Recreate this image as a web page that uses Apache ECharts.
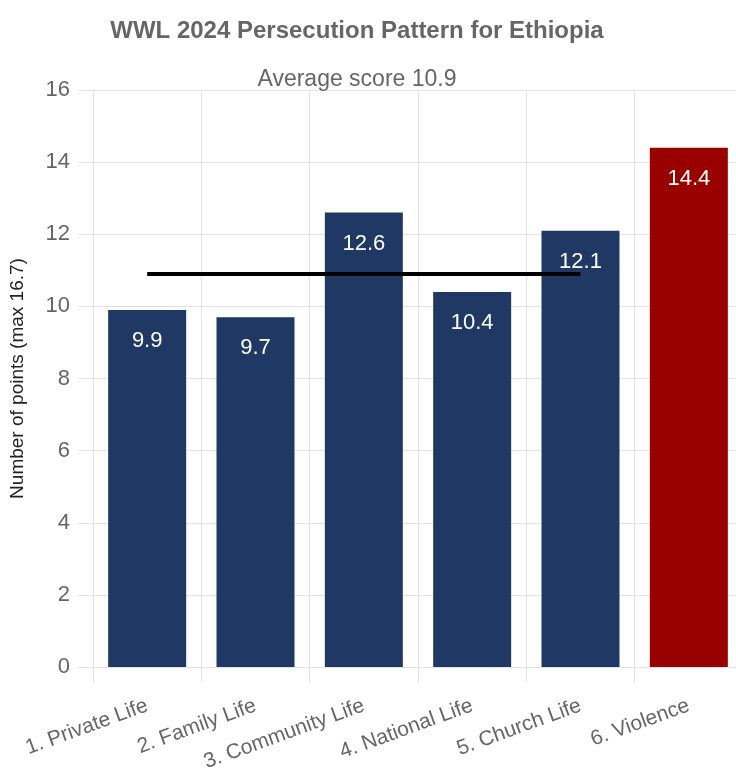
<!DOCTYPE html>
<html>
<head>
<meta charset="utf-8">
<script src="https://cdn.jsdelivr.net/npm/echarts@6/dist/echarts.min.js"></script>
<style>
html,body{margin:0;padding:0;background:#fff;overflow:hidden;width:736px;height:778px;}
#chart{width:745px;height:778px;}
</style>
</head>
<body>
<div id="chart"></div>
<script>
const categories = ['1. Private Life', '2. Family Life', '3. Community Life', '4. National Life', '5. Church Life', '6. Violence'];
const scores = [9.9, 9.7, 12.6, 10.4, 12.1, 14.4];
const barColors = ['#203864', '#203864', '#203864', '#203864', '#203864', '#990000'];
const averageScore = 10.9;
const averageLine = [averageScore, averageScore, averageScore, averageScore, averageScore, null];
const yTicks = { min: 0, max: 16, interval: 2 };

const FONT = '"Liberation Sans", Arial, sans-serif';
const chart = echarts.init(document.getElementById('chart'), null, { renderer: 'canvas' });
const gridColor = '#e2e2e2';
chart.setOption({
  animation: false,
  textStyle: { fontFamily: FONT },
  title: [
    { text: 'WWL 2024 Persecution Pattern for Ethiopia', left: 352, top: 14, textAlign: 'center',
      textStyle: { fontSize: 24, fontWeight: 'bold', color: '#666666', fontFamily: FONT } },
    { text: 'Average score ' + averageScore, left: 352, top: 63, textAlign: 'center',
      textStyle: { fontSize: 23, fontWeight: 'normal', color: '#666666', fontFamily: FONT } }
  ],
  grid: { left: 91, right: 2, top: 90, bottom: 111, containLabel: false },
  xAxis: {
    type: 'category',
    data: categories,
    boundaryGap: true,
    axisLine: { show: true, lineStyle: { color: gridColor, width: 1 } },
    axisTick: { show: true, length: 15, alignWithLabel: false, lineStyle: { color: gridColor } },
    splitLine: { show: true, lineStyle: { color: gridColor } },
    axisLabel: { rotate: 20, margin: 38, fontSize: 21, color: '#666666', interval: 0 }
  },
  yAxis: {
    type: 'value',
    min: yTicks.min, max: yTicks.max, interval: yTicks.interval,
    name: 'Number of points (max 16.7)',
    nameLocation: 'middle',
    nameGap: 66,
    nameTextStyle: { fontSize: 19, color: '#222222' },
    axisLine: { show: true, lineStyle: { color: gridColor } },
    axisTick: { show: true, length: 15, lineStyle: { color: gridColor } },
    splitLine: { show: true, lineStyle: { color: gridColor } },
    axisLabel: { margin: 23, fontSize: 22, color: '#666666' }
  },
  series: [
    {
      type: 'bar',
      data: scores.map((v, i) => ({ value: v, itemStyle: { color: barColors[i] } })),
      barWidth: 78,
      label: { show: true, position: 'insideTop', distance: 20, color: '#ffffff', fontSize: 22 },
      z: 2
    },
    {
      type: 'line',
      data: averageLine,
      symbol: 'none',
      lineStyle: { color: '#000000', width: 4 },
      z: 5
    }
  ]
});
</script>
</body>
</html>
